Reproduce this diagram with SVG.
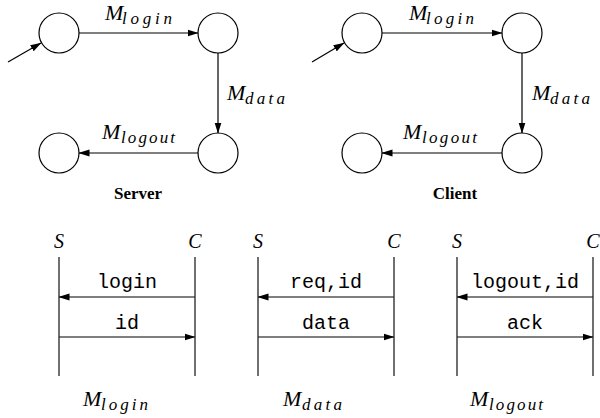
<svg xmlns="http://www.w3.org/2000/svg" width="600" height="418" viewBox="0 0 600 418">
  <style>
    .st { fill: #fff; stroke: #000; stroke-width: 1.2; }
    .ln { stroke: #000; stroke-width: 1.2; fill: none; }
    .life { stroke: #222; stroke-width: 1.3; }
  </style>
  <defs>
    <marker id="ah" markerWidth="11" markerHeight="8" refX="10.5" refY="4" orient="auto" markerUnits="userSpaceOnUse">
      <path d="M0,0.5 L11,4 L0,7.5 Z" fill="#000"/>
    </marker>
  </defs>
  <rect width="600" height="418" fill="#fff"/>

  <!-- Server automaton -->
  <g id="server-s0"><circle class="st" cx="59" cy="33" r="20"/></g>
  <g id="server-s1"><circle class="st" cx="218" cy="33" r="20"/></g>
  <g id="server-s2"><circle class="st" cx="218" cy="153" r="20"/></g>
  <g id="server-s3"><circle class="st" cx="59" cy="153" r="20"/></g>

  <!-- Client automaton -->
  <g id="client-s0"><circle class="st" cx="362" cy="33" r="20"/></g>
  <g id="client-s1"><circle class="st" cx="522" cy="33" r="20"/></g>
  <g id="client-s2"><circle class="st" cx="522" cy="153" r="20"/></g>
  <g id="client-s3"><circle class="st" cx="362" cy="153" r="20"/></g>

  <g id="connectors">
    <!-- server -->
    <line class="ln" x1="8" y1="62" x2="41" y2="43" marker-end="url(#ah)"/>
    <line class="ln" x1="79" y1="33" x2="198" y2="33" marker-end="url(#ah)"/>
    <line class="ln" x1="218" y1="53" x2="218" y2="133" marker-end="url(#ah)"/>
    <line class="ln" x1="198" y1="153" x2="79" y2="153" marker-end="url(#ah)"/>
    <!-- client -->
    <line class="ln" x1="312" y1="62" x2="344" y2="43" marker-end="url(#ah)"/>
    <line class="ln" x1="382" y1="33" x2="502" y2="33" marker-end="url(#ah)"/>
    <line class="ln" x1="522" y1="53" x2="522" y2="133" marker-end="url(#ah)"/>
    <line class="ln" x1="502" y1="153" x2="382" y2="153" marker-end="url(#ah)"/>
    <!-- message sequences -->
    <line class="ln" x1="195" y1="297" x2="59" y2="297" marker-end="url(#ah)"/>
    <line class="ln" x1="59" y1="337" x2="195" y2="337" marker-end="url(#ah)"/>
    <line class="ln" x1="394" y1="297" x2="258" y2="297" marker-end="url(#ah)"/>
    <line class="ln" x1="258" y1="337" x2="394" y2="337" marker-end="url(#ah)"/>
    <line class="ln" x1="593" y1="297" x2="457" y2="297" marker-end="url(#ah)"/>
    <line class="ln" x1="457" y1="337" x2="593" y2="337" marker-end="url(#ah)"/>
  </g>

  <!-- lifelines -->
  <g id="lifelines">
    <line class="life" x1="59" y1="257" x2="59" y2="376"/>
    <line class="life" x1="195" y1="257" x2="195" y2="376"/>
    <line class="life" x1="258" y1="257" x2="258" y2="376"/>
    <line class="life" x1="394" y1="257" x2="394" y2="376"/>
    <line class="life" x1="457" y1="257" x2="457" y2="376"/>
    <line class="life" x1="593" y1="257" x2="593" y2="376"/>
  </g>

  <!-- math labels: M with subscript -->
  <g id="labels" font-family="'Liberation Serif', 'Times New Roman', serif" font-style="italic" fill="#000">
    <text x="105" y="20" font-size="22">M</text>
    <text x="122" y="24" font-size="17" textLength="50" lengthAdjust="spacing">login</text>
    <text x="227" y="100" font-size="22">M</text>
    <text x="245" y="104" font-size="17" textLength="40" lengthAdjust="spacing">data</text>
    <text x="102" y="139" font-size="22">M</text>
    <text x="121" y="143" font-size="17" textLength="54" lengthAdjust="spacing">logout</text>

    <text x="409" y="20" font-size="22">M</text>
    <text x="426" y="24" font-size="17" textLength="48" lengthAdjust="spacing">login</text>
    <text x="532" y="100" font-size="22">M</text>
    <text x="550" y="104" font-size="17" textLength="40" lengthAdjust="spacing">data</text>
    <text x="403" y="139" font-size="22">M</text>
    <text x="422" y="143" font-size="17" textLength="55" lengthAdjust="spacing">logout</text>

    <text x="83" y="406" font-size="22">M</text>
    <text x="101" y="410" font-size="17" textLength="47" lengthAdjust="spacing">login</text>
    <text x="283" y="406" font-size="22">M</text>
    <text x="302" y="410" font-size="17" textLength="40" lengthAdjust="spacing">data</text>
    <text x="470" y="406" font-size="22">M</text>
    <text x="489" y="410" font-size="17" textLength="54" lengthAdjust="spacing">logout</text>

    <!-- party names -->
    <text x="59" y="248" font-size="20" text-anchor="middle">S</text>
    <text x="195" y="248" font-size="20" text-anchor="middle">C</text>
    <text x="258" y="248" font-size="20" text-anchor="middle">S</text>
    <text x="394" y="248" font-size="20" text-anchor="middle">C</text>
    <text x="457" y="248" font-size="20" text-anchor="middle">S</text>
    <text x="593" y="248" font-size="20" text-anchor="middle">C</text>
  </g>

  <g id="captions" font-family="'Liberation Serif', 'Times New Roman', serif" font-weight="bold" font-size="17" text-anchor="middle" fill="#000">
    <text x="138" y="199">Server</text>
    <text x="455" y="199">Client</text>
  </g>

  <!-- message names -->
  <g id="messages" font-family="'Liberation Mono', 'Courier New', monospace" font-size="20" text-anchor="middle" fill="#000">
    <text x="127" y="288">login</text>
    <text x="127" y="329">id</text>
    <text x="326" y="288">req,id</text>
    <text x="326" y="329">data</text>
    <text x="525" y="288">logout,id</text>
    <text x="525" y="329">ack</text>
  </g>
</svg>
